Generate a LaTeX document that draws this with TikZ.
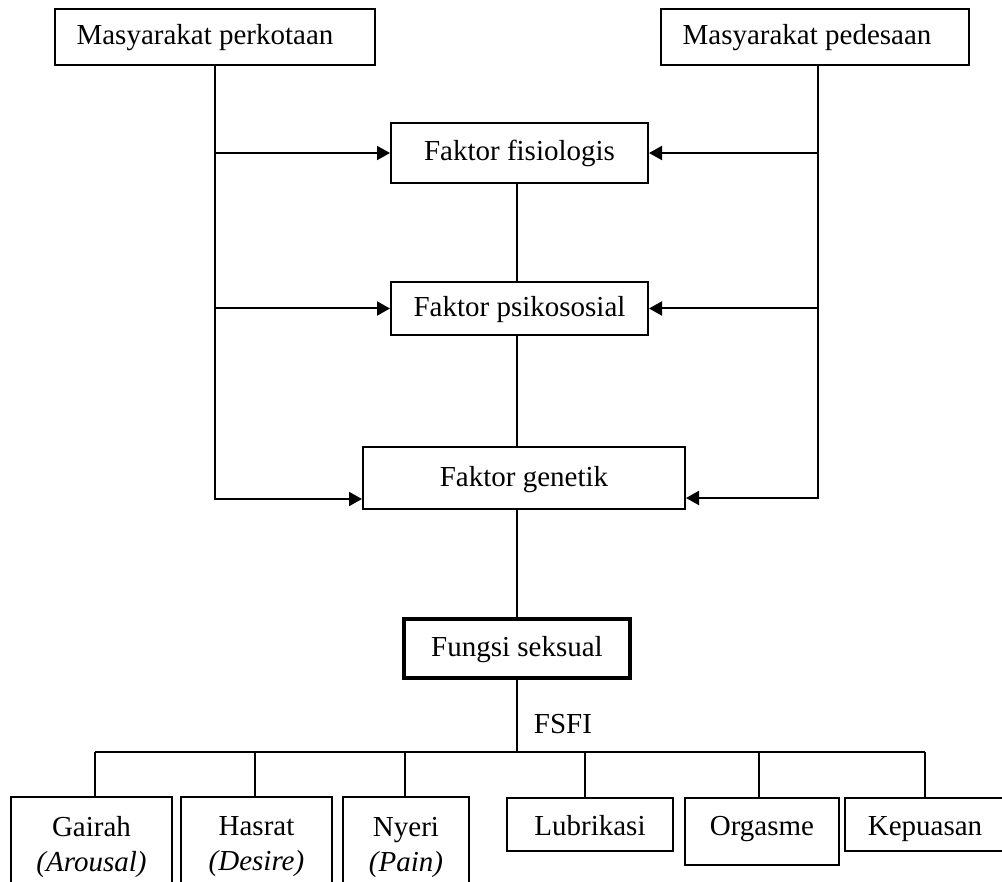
\documentclass[tikz,border=0pt]{standalone}
\usepackage{fontspec}
\setmainfont{Liberation Serif}
\usetikzlibrary{arrows.meta,calc}
\begin{document}
\begin{tikzpicture}[x=1pt,y=-1pt,
  every node/.style={font=\fontsize{29}{35}\selectfont},
  box/.style={draw, line width=2pt, inner sep=0pt, text height=22pt, text depth=6pt, align=center},
  lowbox/.style={box, text height=24pt, text depth=3pt},
  tallbox/.style={draw, line width=2pt, inner sep=0pt, align=center, minimum height=100pt},
  conn/.style={line width=2pt},
  arr/.style={conn, -{Triangle[length=13pt,width=14pt]}}]
\useasboundingbox (0,0) rectangle (1002,882);
\clip (0,0) rectangle (1002,882);
% top boxes
\node[box, minimum width=320pt, minimum height=56pt] (kota) at (215,37) {Masyarakat perkotaan\hspace*{20pt}};
\node[box, minimum width=308pt, minimum height=56pt] (desa) at (815,37) {Masyarakat pedesaan\hspace*{16pt}};
% factors
\node[box, minimum width=257pt, minimum height=60pt] (fis) at (519.5,153) {Faktor fisiologis};
\node[box, minimum width=257pt, minimum height=53pt] (psi) at (519.5,308.5) {Faktor psikososial};
\node[box, minimum width=322pt, minimum height=62pt] (gen) at (524,478) {Faktor genetik};
\node[box, line width=3.5pt, minimum width=226pt, minimum height=59pt] (fungsi) at (517,648.5) {Fungsi seksual};
\node (fsfi) at (563,724) {FSFI};
% domains
\node[tallbox, minimum width=161pt] (gairah) at (91.5,847) {Gairah\\\textit{(Arousal)}};
\node[tallbox, minimum width=151pt] (hasrat) at (256.5,847) {Hasrat\\\textit{(Desire)}};
\node[tallbox, minimum width=126pt] (nyeri) at (406,847) {Nyeri\\\textit{(Pain)}};
\node[lowbox, minimum width=166pt, minimum height=53pt] (lub) at (590,824.5) {Lubrikasi};
\node[lowbox, text depth=17pt, minimum width=154pt, minimum height=67pt] (org) at (762,831.5) {Orgasme};
\node[lowbox, minimum width=160pt, minimum height=53pt] (kep) at (925,824.5) {Kepuasan};
% left side connectors
\draw[arr] (kota.south) |- ($(gen.west)+(0,21)$);
\draw[arr] (kota.south |- fis.west) -- (fis.west);
\draw[arr] (kota.south |- psi.west) -- (psi.west);
% right side connectors
\draw[arr] ([xshift=3pt]desa.south) |- ($(gen.east)+(0,20)$);
\draw[arr] ([xshift=3pt]desa.south |- fis.east) -- (fis.east);
\draw[arr] ([xshift=3pt]desa.south |- psi.east) -- (psi.east);
% central line
\draw[conn] (fungsi.north |- fis.south) -- (fungsi.north |- psi.north);
\draw[conn] (fungsi.north |- psi.south) -- (fungsi.north |- gen.north);
\draw[conn] (fungsi.north |- gen.south) -- (fungsi.north);
\coordinate (bar) at (517,752);
\draw[conn] (fungsi.south) -- (bar);
% bar and drops
\coordinate (d1) at (95,752);
\coordinate (d2) at (255,752);
\coordinate (d3) at (405,752);
\coordinate (d4) at (585,752);
\coordinate (d5) at (759,752);
\coordinate (d6) at (925,752);
\draw[conn] (d1) -- (d6);
\draw[conn] (d1) -- (d1 |- gairah.north);
\draw[conn] (d2) -- (d2 |- hasrat.north);
\draw[conn] (d3) -- (d3 |- nyeri.north);
\draw[conn] (d4) -- (d4 |- lub.north);
\draw[conn] (d5) -- (d5 |- org.north);
\draw[conn] (d6) -- (d6 |- kep.north);
\end{tikzpicture}
\end{document}
